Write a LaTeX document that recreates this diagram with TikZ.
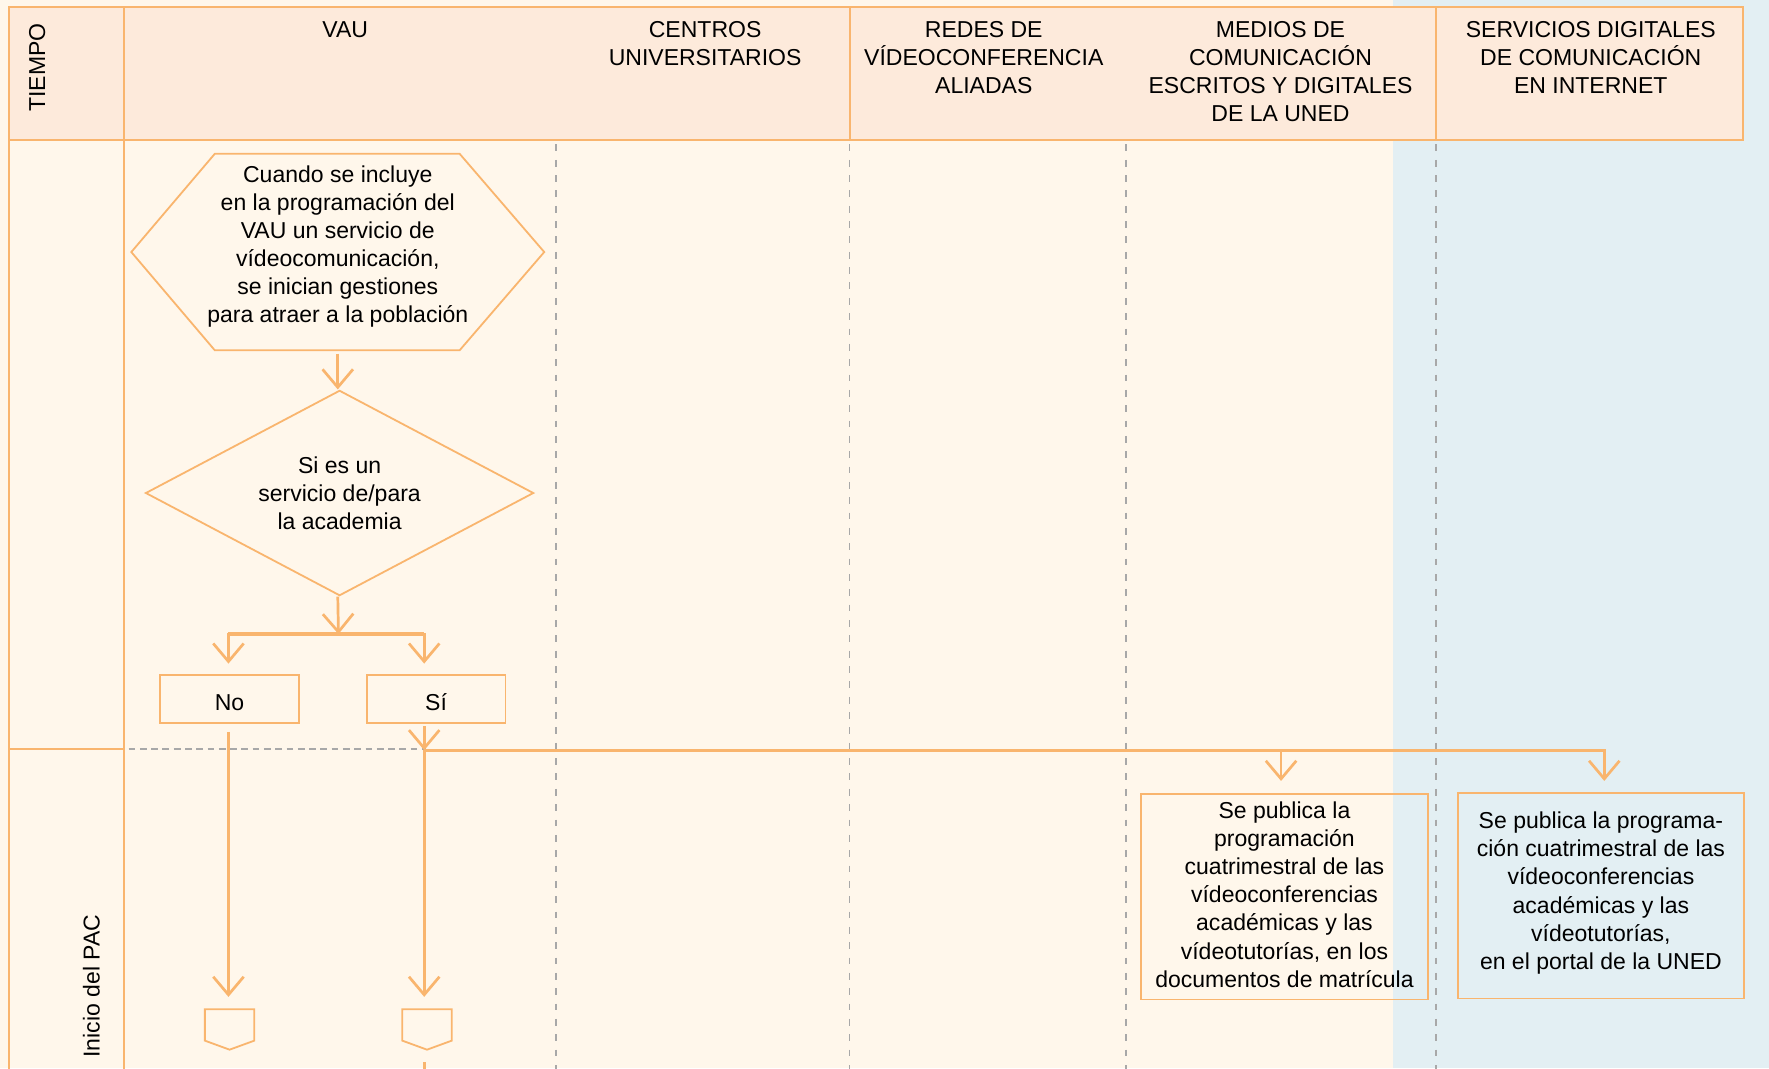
\documentclass[tikz,border=0pt]{standalone}
\usepackage{fontspec}
\setmainfont{Liberation Sans}
\usetikzlibrary{arrows.meta,shapes.geometric}
\definecolor{cream}{RGB}{255,247,235}
\definecolor{peach}{RGB}{253,234,219}
\definecolor{paleblue}{RGB}{227,239,243}
\definecolor{orng}{RGB}{249,181,110}
\definecolor{dgray}{RGB}{168,168,168}
\begin{document}
\begin{tikzpicture}[x=0.5pt,y=-0.5pt,
  every node/.style={font=\fontsize{10.2pt}{12.45pt}\selectfont, text=black},
  box/.style={draw=orng, line width=0.8pt},
  conn/.style={draw=orng, line width=1.2pt, -{Straight Barb[length=8pt,width=13.5pt]}},
  plain/.style={draw=orng, line width=1.5pt},
  sep/.style={draw=dgray, line width=0.8pt, dash pattern=on 3pt off 3.8pt},
  hsep/.style={draw=dgray, line width=0.8pt, dash pattern=on 3pt off 2pt},
  hdr/.style={draw=orng, line width=0.9pt}
]
\useasboundingbox (0,0) rectangle (1568,947);
\fill[cream] (0,0) rectangle (1568,947);
\fill[paleblue] (1235,0) rectangle (1568,947);
% header
\filldraw[hdr, fill=peach] (8,6) rectangle (1545,124);
\draw[hdr] (110,6) -- (110,124) (753,6) -- (753,124) (1273,6) -- (1273,124);
% left column lines
\draw[hdr] (8,124) -- (8,950) (110,124) -- (110,950);
\draw[hdr] (8,664) -- (110,664);
% dashed separators
\foreach \x in {493,753,998,1273} \draw[sep] (\x,128) -- (\x,950);
\draw[hsep] (114,664) -- (378,664);
% header texts
\node[rotate=90] (hT) at (33,60) {TIEMPO};
\node (hV) at (306,26) {VAU};
\node[align=center] (hC) at (625,38.5) {CENTROS\\UNIVERSITARIOS};
\node[align=center] (hR) at (872,51) {REDES DE\\VÍDEOCONFERENCIA\\ALIADAS};
\node[align=center] (hM) at (1135,63.5) {MEDIOS DE\\COMUNICACIÓN\\ESCRITOS Y DIGITALES\\DE LA UNED};
\node[align=center] (hS) at (1410,51) {SERVICIOS DIGITALES\\DE COMUNICACIÓN\\EN INTERNET};
\node[rotate=90] (hP) at (81,874) {Inicio del PAC};
% lanes
\coordinate (xNo) at (202.5,0);
\coordinate (xSi) at (376,0);
\coordinate (xM) at (1135.5,0);
\coordinate (xS) at (1422,0);
% hexagon
\node[minimum width=182.6pt, minimum height=86.7pt, inner sep=0] (hex) at (299.4,223.4) {};
\draw[box] (hex.west) -- ([xshift=37pt]hex.north west) -- ([xshift=-37.5pt]hex.north east) -- (hex.east)
  -- ([xshift=-37.5pt]hex.south east) -- ([xshift=37pt]hex.south west) -- cycle;
\node[align=center, inner sep=0] (hexT) at ([yshift=2.5pt]hex.center)
  {Cuando se incluye\\en la programación del\\VAU un servicio de\\vídeocomunicación,\\se inician gestiones\\para atraer a la población};
% diamond
\node[diamond, box, aspect=1.89, minimum width=172pt, minimum height=91pt, inner sep=0, align=center] (dia) at (301,437)
  {Si es un\\servicio de/para\\la academia};
% No / Si
\node[box, minimum width=61.5pt, minimum height=21.5pt, inner sep=0] (no) at (203.5,619.5) {};
\node[box, minimum width=61.5pt, minimum height=21.5pt, inner sep=0] (si) at (386.5,619.5) {};
\node[inner sep=0] (noT) at ([yshift=-1.5pt]no.center) {No};
\node[inner sep=0] (siT) at ([yshift=-1.5pt]si.center) {Sí};
% off-page connectors
\node[minimum width=21.5pt, minimum height=17.5pt, inner sep=0] (pNo) at (203.5,912.5) {};
\node[minimum width=21.5pt, minimum height=17.5pt, inner sep=0] (pSi) at (378.5,912.5) {};
\foreach \p in {pNo,pSi}
  \draw[box] (\p.north west) -- (\p.north east) -- ([yshift=4pt]\p.south east) -- (\p.south)
    -- ([yshift=4pt]\p.south west) -- cycle;
% publication boxes
\node[box, minimum width=127.5pt, minimum height=91pt, inner sep=0] (m1) at (1138.5,795) {};
\node[align=center, inner sep=0] (m1T) at ([yshift=1pt]m1.center)
  {Se publica la\\programación\\cuatrimestral de las\\vídeoconferencias\\académicas y las\\vídeotutorías, en los\\documentos de matrícula};
\node[box, minimum width=127pt, minimum height=91pt, inner sep=0] (s1) at (1419,794) {};
\node[align=center, inner sep=0] (s1T) at ([yshift=1.2pt]s1.center)
  {Se publica la programa-\\ción cuatrimestral de las\\vídeoconferencias\\académicas y las\\vídeotutorías,\\en el portal de la UNED};
% connectors
\coordinate (j1) at (300,562);
\coordinate (j2) at (376,665);
\draw[conn, shorten <=1.5pt] (hex.south) -- (hex.south |- dia.north);
\draw[conn] (hex.south |- dia.south) -- (j1);
\draw[plain] (xNo |- j1) -- (xSi |- j1);
\draw[conn, shorten >=4.5pt] (j1) -| (xNo |- no.north);
\draw[conn, shorten >=4.5pt] (j1) -| (xSi |- si.north);
\draw[conn, shorten <=3.5pt, shorten >=5.5pt] (xNo |- no.south) -- (xNo |- pNo.north);
\draw[conn, shorten <=1pt] (xSi |- si.south) -- (j2);
\draw[conn, shorten >=5.5pt] (j2) -- (xSi |- pSi.north);
\draw[plain] (j2) -- (xS |- j2);
\draw[conn, shorten >=5.5pt] (j2) -| (xM |- m1.north);
\draw[conn, shorten >=5pt] (j2) -| (xS |- s1.north);
\draw[plain] (xSi |- pSi.south) ++(0,11) -- (xSi |- 0,955);
\end{tikzpicture}
\end{document}
